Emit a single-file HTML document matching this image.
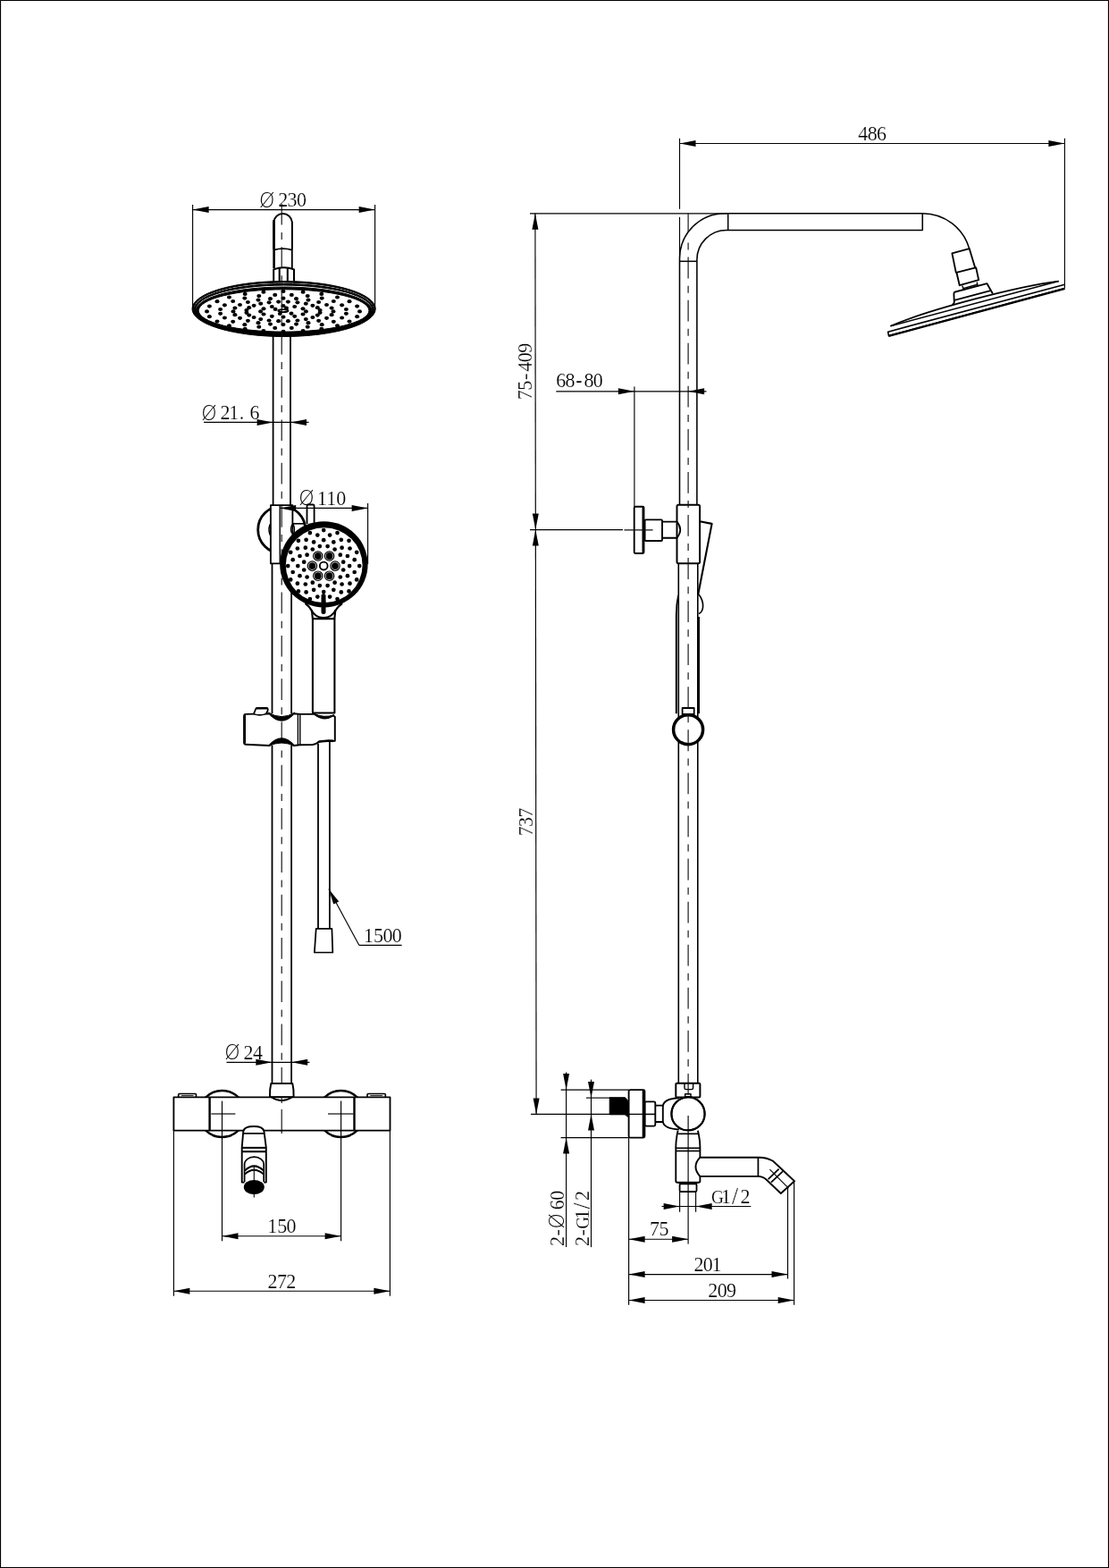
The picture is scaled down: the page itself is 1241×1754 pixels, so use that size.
<!DOCTYPE html>
<html><head><meta charset="utf-8"><title>Shower column drawing</title>
<style>
html,body{margin:0;padding:0;background:#fff}
svg{display:block;will-change:transform}
svg{stroke:#000;stroke-linecap:butt;stroke-linejoin:round;fill:none}
text,tspan{font-family:"Liberation Serif","DejaVu Serif",serif;fill:#000;stroke:#fff;stroke-width:0.2px;stroke-linejoin:miter}
.dia{font-family:"DejaVu Sans","Liberation Sans",sans-serif;font-weight:200;font-size:23.5px;letter-spacing:0;stroke:none}
.cl{stroke:#111}
</style></head><body>
<svg width="1241" height="1754" viewBox="0 0 1241 1754">
<rect x="0" y="0" width="1241" height="1754" fill="#fff" stroke="none"/>
<rect x="0.55" y="0.55" width="1239.9" height="1752.9" fill="none" stroke-width="1.1"/>
<circle cx="315.2" cy="592.6" r="26.50" stroke-width="2.8" fill="none" />
<circle cx="315.2" cy="592.6" r="14.20" stroke-width="1.51" fill="none" />
<path d="M306.2,279 L306.2,248.5 A10.4,10.5 0 0 1 326.9,248.5 L326.9,279" stroke-width="1.94" fill="none" />
<line x1="306.6" y1="246.0" x2="306.6" y2="300.0" stroke-width="2.6" />
<path d="M306.5,279.6 Q316.5,276.6 326.9,279.6" stroke-width="1.62" fill="none" />
<line x1="326.8" y1="279.0" x2="326.8" y2="300.0" stroke-width="1.84" />
<path d="M306.2,314.5 L306.2,301.4 Q317.6,297.2 329,301.4 L329,314.5" stroke-width="2.05" fill="none" />
<line x1="312.7" y1="300.0" x2="312.7" y2="314.5" stroke-width="2.05" />
<line x1="321.8" y1="299.6" x2="321.8" y2="314.5" stroke-width="2.05" />
<line x1="305.6" y1="370.0" x2="305.6" y2="565.0" stroke-width="1.8" />
<line x1="325.0" y1="370.0" x2="325.0" y2="565.0" stroke-width="1.8" />
<line x1="304.5" y1="630.0" x2="304.5" y2="798.0" stroke-width="1.8" />
<line x1="326.1" y1="630.0" x2="326.1" y2="798.0" stroke-width="1.8" />
<line x1="304.5" y1="834.0" x2="304.5" y2="1212.0" stroke-width="1.8" />
<line x1="326.1" y1="834.0" x2="326.1" y2="1212.0" stroke-width="1.8" />
<ellipse cx="317.6" cy="345.50" rx="102.60" ry="31.00" fill="#000" stroke="#000" stroke-width="1"/>
<ellipse cx="317.6" cy="345.40" rx="100.90" ry="29.35" fill="#fff" stroke="#000" stroke-width="1"/>
<ellipse cx="317.6" cy="346.25" rx="100.40" ry="28.75" fill="#000" stroke="#000" stroke-width="1"/>
<ellipse cx="317.6" cy="346.30" rx="98.70" ry="27.20" fill="#fff" stroke="#000" stroke-width="1"/>
<ellipse cx="317.6" cy="347.40" rx="98.20" ry="26.40" fill="#000" stroke="#000" stroke-width="1"/>
<ellipse cx="317.6" cy="347.45" rx="95.30" ry="23.65" fill="#fff" stroke="#000" stroke-width="1"/>
<ellipse cx="402.5" cy="348.4" rx="2.5" ry="2.1" fill="#000" stroke="none"/>
<ellipse cx="399.6" cy="354.2" rx="2.5" ry="2.1" fill="#000" stroke="none"/>
<ellipse cx="391.0" cy="359.6" rx="2.5" ry="2.1" fill="#000" stroke="none"/>
<ellipse cx="377.5" cy="364.3" rx="2.5" ry="2.1" fill="#000" stroke="none"/>
<ellipse cx="359.8" cy="367.9" rx="2.5" ry="2.1" fill="#000" stroke="none"/>
<ellipse cx="339.1" cy="370.1" rx="2.5" ry="2.1" fill="#000" stroke="none"/>
<ellipse cx="317.0" cy="370.9" rx="2.5" ry="2.1" fill="#000" stroke="none"/>
<ellipse cx="294.9" cy="370.1" rx="2.5" ry="2.1" fill="#000" stroke="none"/>
<ellipse cx="274.2" cy="367.9" rx="2.5" ry="2.1" fill="#000" stroke="none"/>
<ellipse cx="256.5" cy="364.3" rx="2.5" ry="2.1" fill="#000" stroke="none"/>
<ellipse cx="243.0" cy="359.6" rx="2.5" ry="2.1" fill="#000" stroke="none"/>
<ellipse cx="234.4" cy="354.2" rx="2.5" ry="2.1" fill="#000" stroke="none"/>
<ellipse cx="231.5" cy="348.4" rx="2.5" ry="2.1" fill="#000" stroke="none"/>
<ellipse cx="234.4" cy="342.6" rx="2.5" ry="2.1" fill="#000" stroke="none"/>
<ellipse cx="243.0" cy="337.2" rx="2.5" ry="2.1" fill="#000" stroke="none"/>
<ellipse cx="256.5" cy="332.5" rx="2.5" ry="2.1" fill="#000" stroke="none"/>
<ellipse cx="274.2" cy="328.9" rx="2.5" ry="2.1" fill="#000" stroke="none"/>
<ellipse cx="294.9" cy="326.7" rx="2.5" ry="2.1" fill="#000" stroke="none"/>
<ellipse cx="317.0" cy="325.9" rx="2.5" ry="2.1" fill="#000" stroke="none"/>
<ellipse cx="339.1" cy="326.7" rx="2.5" ry="2.1" fill="#000" stroke="none"/>
<ellipse cx="359.8" cy="328.9" rx="2.5" ry="2.1" fill="#000" stroke="none"/>
<ellipse cx="377.5" cy="332.5" rx="2.5" ry="2.1" fill="#000" stroke="none"/>
<ellipse cx="391.0" cy="337.2" rx="2.5" ry="2.1" fill="#000" stroke="none"/>
<ellipse cx="399.6" cy="342.6" rx="2.5" ry="2.1" fill="#000" stroke="none"/>
<ellipse cx="387.4" cy="350.8" rx="2.5" ry="2.1" fill="#000" stroke="none"/>
<ellipse cx="382.6" cy="355.5" rx="2.5" ry="2.1" fill="#000" stroke="none"/>
<ellipse cx="373.3" cy="359.8" rx="2.5" ry="2.1" fill="#000" stroke="none"/>
<ellipse cx="360.2" cy="363.2" rx="2.5" ry="2.1" fill="#000" stroke="none"/>
<ellipse cx="344.2" cy="365.7" rx="2.5" ry="2.1" fill="#000" stroke="none"/>
<ellipse cx="326.3" cy="366.9" rx="2.5" ry="2.1" fill="#000" stroke="none"/>
<ellipse cx="307.7" cy="366.9" rx="2.5" ry="2.1" fill="#000" stroke="none"/>
<ellipse cx="289.8" cy="365.7" rx="2.5" ry="2.1" fill="#000" stroke="none"/>
<ellipse cx="273.8" cy="363.2" rx="2.5" ry="2.1" fill="#000" stroke="none"/>
<ellipse cx="260.7" cy="359.8" rx="2.5" ry="2.1" fill="#000" stroke="none"/>
<ellipse cx="251.4" cy="355.5" rx="2.5" ry="2.1" fill="#000" stroke="none"/>
<ellipse cx="246.6" cy="350.8" rx="2.5" ry="2.1" fill="#000" stroke="none"/>
<ellipse cx="246.6" cy="346.0" rx="2.5" ry="2.1" fill="#000" stroke="none"/>
<ellipse cx="251.4" cy="341.3" rx="2.5" ry="2.1" fill="#000" stroke="none"/>
<ellipse cx="260.7" cy="337.0" rx="2.5" ry="2.1" fill="#000" stroke="none"/>
<ellipse cx="273.8" cy="333.6" rx="2.5" ry="2.1" fill="#000" stroke="none"/>
<ellipse cx="289.8" cy="331.1" rx="2.5" ry="2.1" fill="#000" stroke="none"/>
<ellipse cx="307.7" cy="329.9" rx="2.5" ry="2.1" fill="#000" stroke="none"/>
<ellipse cx="326.3" cy="329.9" rx="2.5" ry="2.1" fill="#000" stroke="none"/>
<ellipse cx="344.2" cy="331.1" rx="2.5" ry="2.1" fill="#000" stroke="none"/>
<ellipse cx="360.2" cy="333.6" rx="2.5" ry="2.1" fill="#000" stroke="none"/>
<ellipse cx="373.3" cy="337.0" rx="2.5" ry="2.1" fill="#000" stroke="none"/>
<ellipse cx="382.6" cy="341.3" rx="2.5" ry="2.1" fill="#000" stroke="none"/>
<ellipse cx="387.4" cy="346.0" rx="2.5" ry="2.1" fill="#000" stroke="none"/>
<ellipse cx="373.0" cy="348.4" rx="2.5" ry="2.1" fill="#000" stroke="none"/>
<ellipse cx="371.1" cy="352.2" rx="2.5" ry="2.1" fill="#000" stroke="none"/>
<ellipse cx="365.5" cy="355.8" rx="2.5" ry="2.1" fill="#000" stroke="none"/>
<ellipse cx="356.6" cy="358.8" rx="2.5" ry="2.1" fill="#000" stroke="none"/>
<ellipse cx="345.0" cy="361.2" rx="2.5" ry="2.1" fill="#000" stroke="none"/>
<ellipse cx="331.5" cy="362.6" rx="2.5" ry="2.1" fill="#000" stroke="none"/>
<ellipse cx="317.0" cy="363.1" rx="2.5" ry="2.1" fill="#000" stroke="none"/>
<ellipse cx="302.5" cy="362.6" rx="2.5" ry="2.1" fill="#000" stroke="none"/>
<ellipse cx="289.0" cy="361.2" rx="2.5" ry="2.1" fill="#000" stroke="none"/>
<ellipse cx="277.4" cy="358.8" rx="2.5" ry="2.1" fill="#000" stroke="none"/>
<ellipse cx="268.5" cy="355.8" rx="2.5" ry="2.1" fill="#000" stroke="none"/>
<ellipse cx="262.9" cy="352.2" rx="2.5" ry="2.1" fill="#000" stroke="none"/>
<ellipse cx="261.0" cy="348.4" rx="2.5" ry="2.1" fill="#000" stroke="none"/>
<ellipse cx="262.9" cy="344.6" rx="2.5" ry="2.1" fill="#000" stroke="none"/>
<ellipse cx="268.5" cy="341.0" rx="2.5" ry="2.1" fill="#000" stroke="none"/>
<ellipse cx="277.4" cy="338.0" rx="2.5" ry="2.1" fill="#000" stroke="none"/>
<ellipse cx="289.0" cy="335.6" rx="2.5" ry="2.1" fill="#000" stroke="none"/>
<ellipse cx="302.5" cy="334.2" rx="2.5" ry="2.1" fill="#000" stroke="none"/>
<ellipse cx="317.0" cy="333.7" rx="2.5" ry="2.1" fill="#000" stroke="none"/>
<ellipse cx="331.5" cy="334.2" rx="2.5" ry="2.1" fill="#000" stroke="none"/>
<ellipse cx="345.0" cy="335.6" rx="2.5" ry="2.1" fill="#000" stroke="none"/>
<ellipse cx="356.6" cy="338.0" rx="2.5" ry="2.1" fill="#000" stroke="none"/>
<ellipse cx="365.5" cy="341.0" rx="2.5" ry="2.1" fill="#000" stroke="none"/>
<ellipse cx="371.1" cy="344.6" rx="2.5" ry="2.1" fill="#000" stroke="none"/>
<ellipse cx="358.1" cy="349.8" rx="2.5" ry="2.1" fill="#000" stroke="none"/>
<ellipse cx="355.3" cy="352.6" rx="2.5" ry="2.1" fill="#000" stroke="none"/>
<ellipse cx="349.9" cy="355.0" rx="2.5" ry="2.1" fill="#000" stroke="none"/>
<ellipse cx="342.3" cy="357.1" rx="2.5" ry="2.1" fill="#000" stroke="none"/>
<ellipse cx="332.9" cy="358.5" rx="2.5" ry="2.1" fill="#000" stroke="none"/>
<ellipse cx="322.4" cy="359.2" rx="2.5" ry="2.1" fill="#000" stroke="none"/>
<ellipse cx="311.6" cy="359.2" rx="2.5" ry="2.1" fill="#000" stroke="none"/>
<ellipse cx="301.1" cy="358.5" rx="2.5" ry="2.1" fill="#000" stroke="none"/>
<ellipse cx="291.7" cy="357.1" rx="2.5" ry="2.1" fill="#000" stroke="none"/>
<ellipse cx="284.1" cy="355.0" rx="2.5" ry="2.1" fill="#000" stroke="none"/>
<ellipse cx="278.7" cy="352.6" rx="2.5" ry="2.1" fill="#000" stroke="none"/>
<ellipse cx="275.9" cy="349.8" rx="2.5" ry="2.1" fill="#000" stroke="none"/>
<ellipse cx="275.9" cy="347.0" rx="2.5" ry="2.1" fill="#000" stroke="none"/>
<ellipse cx="278.7" cy="344.2" rx="2.5" ry="2.1" fill="#000" stroke="none"/>
<ellipse cx="284.1" cy="341.8" rx="2.5" ry="2.1" fill="#000" stroke="none"/>
<ellipse cx="291.7" cy="339.7" rx="2.5" ry="2.1" fill="#000" stroke="none"/>
<ellipse cx="301.1" cy="338.3" rx="2.5" ry="2.1" fill="#000" stroke="none"/>
<ellipse cx="311.6" cy="337.6" rx="2.5" ry="2.1" fill="#000" stroke="none"/>
<ellipse cx="322.4" cy="337.6" rx="2.5" ry="2.1" fill="#000" stroke="none"/>
<ellipse cx="332.9" cy="338.3" rx="2.5" ry="2.1" fill="#000" stroke="none"/>
<ellipse cx="342.3" cy="339.7" rx="2.5" ry="2.1" fill="#000" stroke="none"/>
<ellipse cx="349.9" cy="341.8" rx="2.5" ry="2.1" fill="#000" stroke="none"/>
<ellipse cx="355.3" cy="344.2" rx="2.5" ry="2.1" fill="#000" stroke="none"/>
<ellipse cx="358.1" cy="347.0" rx="2.5" ry="2.1" fill="#000" stroke="none"/>
<ellipse cx="342.4" cy="348.4" rx="2.5" ry="2.1" fill="#000" stroke="none"/>
<ellipse cx="339.0" cy="351.5" rx="2.5" ry="2.1" fill="#000" stroke="none"/>
<ellipse cx="329.7" cy="353.8" rx="2.5" ry="2.1" fill="#000" stroke="none"/>
<ellipse cx="317.0" cy="354.6" rx="2.5" ry="2.1" fill="#000" stroke="none"/>
<ellipse cx="304.3" cy="353.8" rx="2.5" ry="2.1" fill="#000" stroke="none"/>
<ellipse cx="295.0" cy="351.5" rx="2.5" ry="2.1" fill="#000" stroke="none"/>
<ellipse cx="291.6" cy="348.4" rx="2.5" ry="2.1" fill="#000" stroke="none"/>
<ellipse cx="295.0" cy="345.3" rx="2.5" ry="2.1" fill="#000" stroke="none"/>
<ellipse cx="304.3" cy="343.0" rx="2.5" ry="2.1" fill="#000" stroke="none"/>
<ellipse cx="317.0" cy="342.2" rx="2.5" ry="2.1" fill="#000" stroke="none"/>
<ellipse cx="329.7" cy="343.0" rx="2.5" ry="2.1" fill="#000" stroke="none"/>
<ellipse cx="339.0" cy="345.3" rx="2.5" ry="2.1" fill="#000" stroke="none"/>
<ellipse cx="308.1" cy="345.9" rx="2.5" ry="2.1" fill="#000" stroke="none"/>
<ellipse cx="313.3" cy="351.0" rx="2.5" ry="2.1" fill="#000" stroke="none"/>
<ellipse cx="320.5" cy="344.7" rx="2.5" ry="2.1" fill="#000" stroke="none"/>
<ellipse cx="326.0" cy="350.7" rx="2.5" ry="2.1" fill="#000" stroke="none"/>
<ellipse cx="316.9" cy="347.7" rx="5.60" ry="1.50" stroke-width="1.84" fill="none" />
<line x1="315.2" y1="227.9" x2="315.2" y2="1268.0" stroke-width="1.15" class="cl" stroke-dasharray="23.7 8.4 8 8.2"/>
<rect x="302.9" y="565.2" width="24.5" height="65.1" rx="0" stroke-width="1.84" fill="#fff" />
<line x1="313.2" y1="565.2" x2="313.2" y2="630.3" stroke-width="1.4" />
<line x1="315.2" y1="565.0" x2="315.2" y2="630.0" stroke-width="1.15" class="cl" stroke-dasharray="23.7 8.4 8 8.2" stroke-dashoffset="47.3"/>
<line x1="327.4" y1="585.8" x2="341.0" y2="585.8" stroke-width="1.62" />
<path d="M327,586.5 Q324.5,591.5 326.5,596.5" stroke-width="1.51" fill="none" />
<path d="M343.5,586 L343.5,566 Q343.5,564.5 345,564.5 L350.1,564.5 Q351.6,564.5 351.6,566 L351.6,586" stroke-width="1.84" fill="none" />
<path d="M344,672 L342.2,675.6 Q347.7,679.5 349.1,684.5 L349.9,692 L374.3,692 L375.1,684.5 Q376.5,679.5 382.4,675.6 L380.5,672 Z" stroke-width="2.16" fill="#fff" />
<ellipse cx="362.4" cy="631.3" rx="49.20" ry="48.10" stroke-width="0" fill="#000" stroke="none"/>
<ellipse cx="362.7" cy="632.2" rx="42.90" ry="42.00" stroke-width="0" fill="#fff" stroke="none"/>
<path d="M348.4,682.2 C351.5,689 356,691 362,691 C368,691 372.5,689 375.6,682.2" stroke-width="1.94" fill="none" />
<circle cx="402.2" cy="633.1" r="2.35" fill="#000" stroke="none"/>
<circle cx="399.2" cy="648.4" r="2.35" fill="#000" stroke="none"/>
<circle cx="390.5" cy="661.4" r="2.35" fill="#000" stroke="none"/>
<circle cx="377.5" cy="670.1" r="2.35" fill="#000" stroke="none"/>
<circle cx="362.2" cy="673.1" r="2.35" fill="#000" stroke="none"/>
<circle cx="346.9" cy="670.1" r="2.35" fill="#000" stroke="none"/>
<circle cx="333.9" cy="661.4" r="2.35" fill="#000" stroke="none"/>
<circle cx="325.2" cy="648.4" r="2.35" fill="#000" stroke="none"/>
<circle cx="322.2" cy="633.1" r="2.35" fill="#000" stroke="none"/>
<circle cx="325.2" cy="617.8" r="2.35" fill="#000" stroke="none"/>
<circle cx="333.9" cy="604.8" r="2.35" fill="#000" stroke="none"/>
<circle cx="346.9" cy="596.1" r="2.35" fill="#000" stroke="none"/>
<circle cx="362.2" cy="593.1" r="2.35" fill="#000" stroke="none"/>
<circle cx="377.5" cy="596.1" r="2.35" fill="#000" stroke="none"/>
<circle cx="390.5" cy="604.8" r="2.35" fill="#000" stroke="none"/>
<circle cx="399.2" cy="617.8" r="2.35" fill="#000" stroke="none"/>
<circle cx="396.7" cy="640.0" r="2.35" fill="#000" stroke="none"/>
<circle cx="391.5" cy="652.7" r="2.35" fill="#000" stroke="none"/>
<circle cx="381.8" cy="662.4" r="2.35" fill="#000" stroke="none"/>
<circle cx="369.1" cy="667.6" r="2.35" fill="#000" stroke="none"/>
<circle cx="355.3" cy="667.6" r="2.35" fill="#000" stroke="none"/>
<circle cx="342.6" cy="662.4" r="2.35" fill="#000" stroke="none"/>
<circle cx="332.9" cy="652.7" r="2.35" fill="#000" stroke="none"/>
<circle cx="327.7" cy="640.0" r="2.35" fill="#000" stroke="none"/>
<circle cx="327.7" cy="626.2" r="2.35" fill="#000" stroke="none"/>
<circle cx="332.9" cy="613.5" r="2.35" fill="#000" stroke="none"/>
<circle cx="342.6" cy="603.8" r="2.35" fill="#000" stroke="none"/>
<circle cx="355.3" cy="598.6" r="2.35" fill="#000" stroke="none"/>
<circle cx="369.1" cy="598.6" r="2.35" fill="#000" stroke="none"/>
<circle cx="381.8" cy="603.8" r="2.35" fill="#000" stroke="none"/>
<circle cx="391.5" cy="613.5" r="2.35" fill="#000" stroke="none"/>
<circle cx="396.7" cy="626.2" r="2.35" fill="#000" stroke="none"/>
<circle cx="391.1" cy="633.1" r="2.35" fill="#000" stroke="none"/>
<circle cx="388.9" cy="644.2" r="2.35" fill="#000" stroke="none"/>
<circle cx="382.6" cy="653.5" r="2.35" fill="#000" stroke="none"/>
<circle cx="373.3" cy="659.8" r="2.35" fill="#000" stroke="none"/>
<circle cx="362.2" cy="662.0" r="2.35" fill="#000" stroke="none"/>
<circle cx="351.1" cy="659.8" r="2.35" fill="#000" stroke="none"/>
<circle cx="341.8" cy="653.5" r="2.35" fill="#000" stroke="none"/>
<circle cx="335.5" cy="644.2" r="2.35" fill="#000" stroke="none"/>
<circle cx="333.3" cy="633.1" r="2.35" fill="#000" stroke="none"/>
<circle cx="335.5" cy="622.0" r="2.35" fill="#000" stroke="none"/>
<circle cx="341.8" cy="612.7" r="2.35" fill="#000" stroke="none"/>
<circle cx="351.1" cy="606.4" r="2.35" fill="#000" stroke="none"/>
<circle cx="362.2" cy="604.2" r="2.35" fill="#000" stroke="none"/>
<circle cx="373.3" cy="606.4" r="2.35" fill="#000" stroke="none"/>
<circle cx="382.6" cy="612.7" r="2.35" fill="#000" stroke="none"/>
<circle cx="388.9" cy="622.0" r="2.35" fill="#000" stroke="none"/>
<circle cx="384.2" cy="637.5" r="2.35" fill="#000" stroke="none"/>
<circle cx="380.8" cy="645.5" r="2.35" fill="#000" stroke="none"/>
<circle cx="374.6" cy="651.7" r="2.35" fill="#000" stroke="none"/>
<circle cx="366.6" cy="655.1" r="2.35" fill="#000" stroke="none"/>
<circle cx="357.8" cy="655.1" r="2.35" fill="#000" stroke="none"/>
<circle cx="349.8" cy="651.7" r="2.35" fill="#000" stroke="none"/>
<circle cx="343.6" cy="645.5" r="2.35" fill="#000" stroke="none"/>
<circle cx="340.2" cy="637.5" r="2.35" fill="#000" stroke="none"/>
<circle cx="340.2" cy="628.7" r="2.35" fill="#000" stroke="none"/>
<circle cx="343.6" cy="620.7" r="2.35" fill="#000" stroke="none"/>
<circle cx="349.8" cy="614.5" r="2.35" fill="#000" stroke="none"/>
<circle cx="357.8" cy="611.1" r="2.35" fill="#000" stroke="none"/>
<circle cx="366.6" cy="611.1" r="2.35" fill="#000" stroke="none"/>
<circle cx="374.6" cy="614.5" r="2.35" fill="#000" stroke="none"/>
<circle cx="380.8" cy="620.7" r="2.35" fill="#000" stroke="none"/>
<circle cx="384.2" cy="628.7" r="2.35" fill="#000" stroke="none"/>
<circle cx="375.0" cy="633.1" r="5.20" stroke-width="1.2" fill="#fff" />
<circle cx="375.0" cy="633.1" r="3.90" stroke-width="0" fill="#000" stroke="none"/>
<circle cx="368.6" cy="644.2" r="5.20" stroke-width="1.2" fill="#fff" />
<circle cx="368.6" cy="644.2" r="3.90" stroke-width="0" fill="#000" stroke="none"/>
<circle cx="355.8" cy="644.2" r="5.20" stroke-width="1.2" fill="#fff" />
<circle cx="355.8" cy="644.2" r="3.90" stroke-width="0" fill="#000" stroke="none"/>
<circle cx="349.4" cy="633.1" r="5.20" stroke-width="1.2" fill="#fff" />
<circle cx="349.4" cy="633.1" r="3.90" stroke-width="0" fill="#000" stroke="none"/>
<circle cx="355.8" cy="622.0" r="5.20" stroke-width="1.2" fill="#fff" />
<circle cx="355.8" cy="622.0" r="3.90" stroke-width="0" fill="#000" stroke="none"/>
<circle cx="368.6" cy="622.0" r="5.20" stroke-width="1.2" fill="#fff" />
<circle cx="368.6" cy="622.0" r="3.90" stroke-width="0" fill="#000" stroke="none"/>
<circle cx="362.2" cy="633.1" r="4.40" stroke-width="1.84" fill="#fff" />
<line x1="362.0" y1="666.4" x2="362.0" y2="684.4" stroke-width="5" style="stroke-linecap:round"/>
<rect x="349.9" y="692.1" width="24.5" height="105.4" rx="0" stroke-width="2.05" fill="#fff" />
<path d="M274.7,798.9 L301.3,798.2 Q315.2,813.6 328.8,798.2 L336,798.9 L352,798.9 Q362.5,807 373,800.5 L374.8,801.8 L374.8,828.8 L357,829.3 Q354,832.5 350,833 L336,833.2 L328.8,834 Q315.2,818.4 301.3,834 L274.7,832.7 Q273.2,832.7 273.2,831.2 L273.2,800.4 Q273.2,798.9 274.7,798.9 Z" stroke-width="1.94" fill="none" />
<path d="M300.3,797.0 Q315.2,814.2 329.8,797.0 Q315.2,806.2 300.3,797.0 Z" fill="#000" stroke="#000" stroke-width="1"/>
<path d="M300.3,834.8 Q315.2,817.8 329.8,834.8 Q315.2,827.2 300.3,834.8 Z" fill="#000" stroke="#000" stroke-width="1"/>
<path d="M350.5,798.0 Q362.5,808 373.8,799.8 Q362.5,803.6 350.5,798.0 Z" fill="#000" stroke="#000" stroke-width="1"/>
<path d="M354.5,831 Q360,827.2 373,828 L373,829.6 Q361,829.2 354.5,831 Z" fill="#000" stroke="#000" stroke-width="1"/>
<line x1="273.7" y1="800.0" x2="273.7" y2="831.6" stroke-width="2.6" />
<line x1="333.4" y1="798.8" x2="333.4" y2="833.2" stroke-width="1.4" />
<line x1="335.8" y1="798.8" x2="335.8" y2="833.2" stroke-width="1.4" />
<path d="M283.9,798.9 L286.3,792.8 Q286.6,792.1 287.6,792.1 L298.4,791.9 Q299.6,791.9 299.8,793.4 L299.6,795 L297.4,798.9" stroke-width="1.73" fill="#fff" />
<path d="M286.4,792.4 L299.2,792.2" stroke-width="2.4" fill="none" />
<path d="M284.4,798.9 Q291,801 297.2,798.6" stroke-width="1.51" fill="none" />
<line x1="356.0" y1="831.5" x2="356.0" y2="1038.6" stroke-width="1.8" />
<line x1="368.9" y1="829.0" x2="368.9" y2="1038.6" stroke-width="1.8" />
<path d="M353.7,1038.9 L371.4,1038.9 L372.3,1065.5 L351.9,1065.5 Z" stroke-width="1.73" fill="#fff" />
<circle cx="248.5" cy="1246.0" r="26.00" stroke-width="2.6" fill="none" />
<circle cx="381.5" cy="1246.0" r="26.00" stroke-width="2.6" fill="none" />
<rect x="199.7" y="1223.5" width="19.8" height="6.5" rx="1" stroke-width="1.62" fill="#fff" />
<rect x="411.0" y="1223.5" width="20.3" height="6.5" rx="1" stroke-width="1.62" fill="#fff" />
<line x1="203.0" y1="1225.6" x2="216.5" y2="1225.6" stroke-width="0.9" />
<line x1="414.3" y1="1225.6" x2="428.0" y2="1225.6" stroke-width="0.9" />
<path d="M303.3,1212 L327.3,1212 Q329,1219 328.6,1227.3 L302,1227.3 Q301.6,1219 303.3,1212 Z" stroke-width="1.94" fill="#fff" />
<rect x="194.4" y="1227.3" width="242.1" height="37.3" rx="0" stroke-width="1.84" fill="#fff" />
<path d="M303.5,1227.3 Q315.2,1235 327,1227.3" stroke-width="1.62" fill="none" />
<line x1="234.6" y1="1227.3" x2="234.6" y2="1264.6" stroke-width="2.4" />
<line x1="396.5" y1="1227.3" x2="396.5" y2="1264.6" stroke-width="2.4" />
<line x1="236.3" y1="1246.0" x2="263.4" y2="1246.0" stroke-width="1.15" />
<line x1="367.0" y1="1246.0" x2="395.4" y2="1246.0" stroke-width="1.15" />
<line x1="248.5" y1="1231.6" x2="248.5" y2="1388.3" stroke-width="1.15" />
<line x1="381.6" y1="1231.6" x2="381.6" y2="1388.3" stroke-width="1.15" />
<line x1="315.2" y1="1227.0" x2="315.2" y2="1234.0" stroke-width="1.15" class="cl"/>
<line x1="315.2" y1="1241.0" x2="315.2" y2="1268.0" stroke-width="1.15" class="cl"/>
<line x1="194.4" y1="1264.6" x2="194.4" y2="1449.7" stroke-width="1.15" />
<line x1="436.4" y1="1264.6" x2="436.4" y2="1449.7" stroke-width="1.15" />
<rect x="273.2" y="1262.8" width="21.4" height="3.6" fill="#fff" stroke="none"/>
<path d="M272.3,1265.2 C273.3,1261.4 277,1260 284,1260 C291,1260 294.4,1261.4 295.4,1265.2" stroke-width="2.05" fill="none" />
<line x1="272.6" y1="1267.9" x2="295.1" y2="1267.9" stroke-width="1.73" />
<path d="M272.3,1265 L270.7,1283.6 L270.7,1322.6 L273.6,1322.6 M295.4,1265 L297.8,1283.6 L297.8,1322.6 L295.2,1322.6" stroke-width="1.89" fill="none" />
<line x1="270.7" y1="1283.9" x2="297.8" y2="1283.9" stroke-width="2.05" />
<line x1="270.7" y1="1288.2" x2="297.8" y2="1288.2" stroke-width="2.05" />
<path d="M273.6,1322 L273.6,1302.5 A10.8,8.3 0 0 1 295.2,1302.5 L295.2,1322" stroke-width="1.73" fill="none" />
<path d="M273.9,1309.6 Q284.3,1299.2 295,1309.6" stroke-width="1.94" fill="none" />
<path d="M273.9,1313.6 Q284.3,1304 295,1313.6" stroke-width="1.94" fill="none" />
<line x1="284.3" y1="1304.7" x2="284.3" y2="1321.0" stroke-width="1.15" class="cl"/>
<ellipse cx="284.3" cy="1328.0" rx="11.50" ry="8.10" stroke-width="0" fill="#000" stroke="none"/>
<line x1="284.3" y1="1335.0" x2="284.3" y2="1339.6" stroke-width="1.15" class="cl"/>
<line x1="215.6" y1="229.0" x2="215.6" y2="346.0" stroke-width="1.15" />
<line x1="419.6" y1="229.0" x2="419.6" y2="346.0" stroke-width="1.15" />
<line x1="215.6" y1="234.6" x2="419.6" y2="234.6" stroke-width="1.15" />
<polygon points="215.6,234.6 233.6,231.1 233.6,238.1" fill="#000" stroke="none"/>
<polygon points="419.6,234.6 401.6,238.1 401.6,231.1" fill="#000" stroke="none"/>
<text transform="translate(291.2,231.0) scale(0.94,1)" font-size="23.4"><tspan class="dia" x="-1.28" y="0.5">Ø</tspan><tspan x="21.28" y="0">2</tspan><tspan x="32.34" y="0">3</tspan><tspan x="43.40" y="0">0</tspan></text>
<line x1="228.0" y1="472.4" x2="345.5" y2="472.4" stroke-width="1.15" />
<polygon points="305.6,472.4 287.6,475.9 287.6,468.9" fill="#000" stroke="none"/>
<polygon points="325.0,472.4 343.0,468.9 343.0,475.9" fill="#000" stroke="none"/>
<text transform="translate(226.5,469.0) scale(0.94,1)" font-size="23.4"><tspan class="dia" x="-1.28" y="0.5">Ø</tspan><tspan x="21.28" y="0">2</tspan><tspan x="31.70" y="0">1</tspan><tspan x="43.94" y="0">.</tspan><tspan x="56.28" y="0">6</tspan></text>
<line x1="313.2" y1="568.4" x2="411.6" y2="568.4" stroke-width="1.15" />
<polygon points="313.2,568.4 331.2,564.9 331.2,571.9" fill="#000" stroke="none"/>
<polygon points="411.6,568.4 393.6,571.9 393.6,564.9" fill="#000" stroke="none"/>
<line x1="411.6" y1="563.0" x2="411.6" y2="631.0" stroke-width="1.15" />
<text transform="translate(335.5,564.5) scale(0.94,1)" font-size="23.4"><tspan class="dia" x="-1.28" y="0.5">Ø</tspan><tspan x="20.64" y="0">1</tspan><tspan x="31.70" y="0">1</tspan><tspan x="43.40" y="0">0</tspan></text>
<line x1="367.9" y1="994.6" x2="401.8" y2="1057.3" stroke-width="1.15" />
<line x1="401.8" y1="1057.3" x2="449.6" y2="1057.3" stroke-width="1.15" />
<polygon points="367.9,994.6 379.2,1008.4 373.2,1011.6" fill="#000" stroke="none"/>
<text transform="translate(407.6,1054.0) scale(0.94,1)" font-size="23.4"><tspan x="-0.64" y="0">1</tspan><tspan x="11.06" y="0">5</tspan><tspan x="22.13" y="0">0</tspan><tspan x="33.19" y="0">0</tspan></text>
<line x1="253.5" y1="1188.3" x2="346.4" y2="1188.3" stroke-width="1.15" />
<polygon points="304.4,1188.3 286.4,1191.8 286.4,1184.8" fill="#000" stroke="none"/>
<polygon points="326.2,1188.3 344.2,1184.8 344.2,1191.8" fill="#000" stroke="none"/>
<text transform="translate(252.5,1184.8) scale(0.94,1)" font-size="23.4"><tspan class="dia" x="-1.28" y="0.5">Ø</tspan><tspan x="21.28" y="0">2</tspan><tspan x="32.34" y="0">4</tspan></text>
<line x1="248.5" y1="1382.7" x2="381.6" y2="1382.7" stroke-width="1.15" />
<polygon points="248.5,1382.7 266.5,1379.2 266.5,1386.2" fill="#000" stroke="none"/>
<polygon points="381.6,1382.7 363.6,1386.2 363.6,1379.2" fill="#000" stroke="none"/>
<text transform="translate(299.8,1379.0) scale(0.94,1)" font-size="23.4"><tspan x="-0.64" y="0">1</tspan><tspan x="11.06" y="0">5</tspan><tspan x="22.13" y="0">0</tspan></text>
<line x1="194.4" y1="1444.2" x2="436.4" y2="1444.2" stroke-width="1.15" />
<polygon points="194.4,1444.2 212.4,1440.7 212.4,1447.7" fill="#000" stroke="none"/>
<polygon points="436.4,1444.2 418.4,1447.7 418.4,1440.7" fill="#000" stroke="none"/>
<text transform="translate(299.5,1440.5) scale(0.94,1)" font-size="23.4"><tspan x="0.00" y="0">2</tspan><tspan x="11.06" y="0">7</tspan><tspan x="22.13" y="0">2</tspan></text>
<path d="M760.5,564.7 L760.5,289.3 A50.6,50.6 0 0 1 811.1,238.7 L1032.3,238.7 A54.6,54.6 0 0 1 1084.7,278.1" stroke-width="1.55" fill="none" />
<path d="M779.9,564.7 L779.9,290.5 A33,33 0 0 1 812.9,257.5 L1032.3,257.5 L1032.3,238.7" stroke-width="1.55" fill="none" />
<line x1="814.7" y1="238.8" x2="814.7" y2="257.5" stroke-width="1.5" />
<line x1="760.5" y1="292.3" x2="779.9" y2="292.3" stroke-width="1.5" />
<path d="M1065.4,283.4 L1084.7,278.1 L1091.2,299.6 L1092.2,299.4 L1095.2,313.2 L1073.8,319.2 L1070.4,304.8 L1069.8,304.9 Z" stroke-width="1.87" fill="#fff" />
<line x1="1070.2" y1="304.8" x2="1091.8" y2="299.4" stroke-width="1.87" />
<path d="M1076.7,319.6 L1077.9,322.6 L1078.6,325 M1093.2,315.6 L1093.8,318.3 L1094.2,320.4 M1077.9,322.6 L1093.8,318.3" stroke-width="1.43" fill="none" />
<path d="M996.5,364.7 C1040,346 1140,320 1184.6,314.6" stroke-width="1.76" fill="none" />
<line x1="996.5" y1="364.7" x2="1184.6" y2="314.6" stroke-width="1.54" />
<path d="M1191.5,318.2 L993.7,371.2 L994.5,375.6 L1191.5,322.6" stroke-width="1.65" fill="none" />
<line x1="994.5" y1="375.9" x2="1191.5" y2="322.9" stroke-width="2.2" />
<path d="M1065.8,341 Q1067.6,339.5 1067.8,338.2 L1067.4,328.4 Q1067.4,326.9 1069,326.5 L1104.5,317.2 L1110.9,328.5" stroke-width="1.87" fill="none" />
<line x1="1068.0" y1="335.9" x2="1109.3" y2="324.9" stroke-width="1.65" />
<line x1="759.3" y1="630.0" x2="759.3" y2="1211.8" stroke-width="1.6" />
<line x1="780.8" y1="630.0" x2="780.8" y2="1211.8" stroke-width="1.6" />
<path d="M759.1,666 Q756.8,676 756.8,688 L756.8,798.2" stroke-width="1.87" fill="none" />
<line x1="781.9" y1="690.0" x2="781.9" y2="798.2" stroke-width="2.2" />
<path d="M781.2,664 Q787.2,671 786.6,679 Q786,685 782,686.5" stroke-width="1.65" fill="none" />
<path d="M783.1,583.3 L796.6,585.9 L781.4,664" stroke-width="2.09" fill="none" />
<rect x="709.7" y="566.7" width="10.8" height="52.3" rx="1.2" stroke-width="1.87" fill="none" />
<line x1="719.6" y1="567.0" x2="719.6" y2="618.8" stroke-width="2.2" />
<rect x="721.6" y="581.4" width="19.4" height="23.6" rx="1" stroke-width="1.87" fill="none" />
<path d="M741,583.6 L757.5,583.6 M741,601.7 L757.5,601.7" stroke-width="1.87" fill="none" />
<path d="M757.5,583.6 Q765,592.6 757.5,601.7" stroke-width="1.76" fill="none" />
<rect x="757.5" y="564.7" width="25.6" height="65.6" rx="1.8" stroke-width="1.98" fill="none" />
<rect x="763.6" y="792.0" width="13.1" height="7.0" rx="0" stroke-width="1.76" fill="#fff" />
<circle cx="770.1" cy="816.2" r="16.50" stroke-width="3.5" fill="#fff" />
<rect x="756.3" y="1211.8" width="27.1" height="15.6" rx="1.2" stroke-width="1.98" fill="#fff" />
<path d="M766,1212 L766,1217 Q766,1218.6 767.6,1218.6 L774,1218.6 Q775.6,1218.6 775.6,1217 L775.6,1212" stroke-width="1.43" fill="none" />
<rect x="766.7" y="1223.7" width="6.3" height="3.5" rx="0" stroke-width="1.43" fill="none" />
<path d="M760,1228.3 Q742,1229 741.8,1238 L741.8,1254 Q742,1262.5 760,1263.5" stroke-width="1.87" fill="#fff" />
<circle cx="770.0" cy="1245.9" r="18.60" stroke-width="1.98" fill="#fff" />
<path d="M741.8,1236.6 L733.3,1236.6 M741.8,1255 L733.3,1255" stroke-width="1.76" fill="none" />
<rect x="721.5" y="1232.4" width="11.8" height="27.2" rx="1.5" stroke-width="1.87" fill="none" />
<line x1="721.5" y1="1246.4" x2="733.3" y2="1246.4" stroke-width="1.54" />
<rect x="703.6" y="1219.1" width="17.8" height="53.5" rx="1.5" stroke-width="1.87" fill="none" />
<line x1="719.8" y1="1219.5" x2="719.8" y2="1272.2" stroke-width="2.2" />
<path d="M682.2,1227.7 L699.5,1227.7 L700.9,1229.5 L700.9,1246.8 L682.2,1246.8 Z" fill="#000" stroke="#000" stroke-width="1"/>
<path d="M699,1246.4 L703.6,1250 L703.6,1246.4 Z M700.5,1229 L703.4,1232 L703.4,1246 L700.5,1246Z" fill="#000" stroke="#000" stroke-width="1"/>
<path d="M758.6,1264.7 Q756.3,1275 756.3,1283 L756.3,1321 Q756.3,1322.7 758,1322.7 L781.7,1322.7 Q783.4,1322.7 783.4,1321 L783.4,1283 Q783.4,1275 780.9,1264.7" stroke-width="1.87" fill="#fff" />
<circle cx="770.0" cy="1245.9" r="18.60" stroke-width="1.98" fill="none" />
<line x1="759.0" y1="1268.3" x2="781.0" y2="1268.3" stroke-width="1.65" />
<line x1="756.3" y1="1284.3" x2="783.4" y2="1284.3" stroke-width="1.65" />
<line x1="756.3" y1="1287.5" x2="783.4" y2="1287.5" stroke-width="1.65" />
<path d="M783.4,1294.7 L848.4,1294.7 Q858,1294.5 865,1298.8 L889,1321.3 L873.8,1335 L857.8,1319.8 Q853.5,1316 848.4,1315.9 L783.4,1315.9 Q773.5,1305.3 783.4,1294.7 Z" stroke-width="1.87" fill="#fff" />
<line x1="848.4" y1="1294.7" x2="848.4" y2="1315.9" stroke-width="1.76" />
<line x1="859.6" y1="1319.2" x2="871.6" y2="1307.6" stroke-width="1.76" />
<line x1="862.9" y1="1322.7" x2="875.9" y2="1310.4" stroke-width="1.76" />
<line x1="861.4" y1="1308.2" x2="882.4" y2="1329.2" stroke-width="1.15" />
<rect x="760.6" y="1324.4" width="18.9" height="8.6" rx="1.2" stroke-width="1.76" fill="#fff" />
<line x1="759.5" y1="1323.2" x2="780.5" y2="1323.2" stroke-width="2.2" />
<line x1="770.1" y1="238.7" x2="770.1" y2="259.8" stroke-width="1.15" class="cl"/>
<line x1="770.1" y1="271.6" x2="770.1" y2="1228.0" stroke-width="1.15" class="cl" stroke-dasharray="8 8 23.8 8.27"/>
<line x1="770.1" y1="1248.0" x2="770.1" y2="1391.5" stroke-width="1.15" />
<line x1="760.5" y1="154.8" x2="760.5" y2="233.8" stroke-width="1.15" />
<line x1="760.5" y1="242.8" x2="760.5" y2="285.0" stroke-width="1.15" />
<line x1="1191.4" y1="154.8" x2="1191.4" y2="322.0" stroke-width="1.15" />
<line x1="760.5" y1="160.5" x2="1191.4" y2="160.5" stroke-width="1.15" />
<polygon points="760.5,160.5 778.5,157.0 778.5,164.0" fill="#000" stroke="none"/>
<polygon points="1191.4,160.5 1173.4,164.0 1173.4,157.0" fill="#000" stroke="none"/>
<text transform="translate(960.3,156.9) scale(0.94,1)" font-size="23.4"><tspan x="0.00" y="0">4</tspan><tspan x="11.06" y="0">8</tspan><tspan x="22.13" y="0">6</tspan></text>
<line x1="593.0" y1="238.8" x2="814.7" y2="238.8" stroke-width="1.15" />
<line x1="598.9" y1="238.8" x2="600.1" y2="1246.4" stroke-width="1.15" />
<polygon points="598.9,238.8 602.4,256.8 595.4,256.8" fill="#000" stroke="none"/>
<polygon points="599.3,592.6 595.8,574.6 602.8,574.6" fill="#000" stroke="none"/>
<polygon points="599.3,592.6 602.8,610.6 595.8,610.6" fill="#000" stroke="none"/>
<polygon points="600.1,1246.4 596.6,1228.4 603.6,1228.4" fill="#000" stroke="none"/>
<line x1="593.0" y1="592.6" x2="697.0" y2="592.6" stroke-width="1.15" />
<line x1="698.5" y1="592.8" x2="730.6" y2="592.8" stroke-width="1.15" class="cl"/>
<line x1="594.0" y1="1246.4" x2="721.0" y2="1246.4" stroke-width="1.15" />
<text transform="translate(595.3,447.3) rotate(-90) scale(0.94,1)" font-size="23.4"><tspan x="0.00" y="0">7</tspan><tspan x="11.17" y="0">5</tspan><tspan x="23.62" y="0">-</tspan><tspan x="33.51" y="0">4</tspan><tspan x="44.68" y="0">0</tspan><tspan x="55.85" y="0">9</tspan></text>
<text transform="translate(596.0,935.3) rotate(-90) scale(0.94,1)" font-size="23.4"><tspan x="0.00" y="0">7</tspan><tspan x="11.06" y="0">3</tspan><tspan x="22.13" y="0">7</tspan></text>
<line x1="622.3" y1="437.8" x2="790.5" y2="437.8" stroke-width="1.15" />
<polygon points="709.9,437.8 691.9,441.3 691.9,434.3" fill="#000" stroke="none"/>
<polygon points="770.1,437.8 788.1,434.3 788.1,441.3" fill="#000" stroke="none"/>
<line x1="709.9" y1="432.4" x2="709.9" y2="566.5" stroke-width="1.15" />
<text transform="translate(622.2,433.4) scale(0.94,1)" font-size="23.4"><tspan x="0.00" y="0">6</tspan><tspan x="11.06" y="0">8</tspan><tspan x="23.40" y="0">-</tspan><tspan x="33.19" y="0">8</tspan><tspan x="44.26" y="0">0</tspan></text>
<line x1="633.6" y1="1199.4" x2="633.6" y2="1395.1" stroke-width="1.15" />
<polygon points="633.6,1219.1 630.1,1201.1 637.1,1201.1" fill="#000" stroke="none"/>
<polygon points="633.6,1272.6 637.1,1290.6 630.1,1290.6" fill="#000" stroke="none"/>
<line x1="627.6" y1="1219.1" x2="703.5" y2="1219.1" stroke-width="1.15" />
<line x1="627.6" y1="1272.6" x2="703.5" y2="1272.6" stroke-width="1.15" />
<text transform="translate(630.8,1394.0) rotate(-90) scale(0.94,1)" font-size="23.4"><tspan x="0.00" y="0">2</tspan><tspan x="12.34" y="0">-</tspan><tspan class="dia" x="20.85" y="0.5">Ø</tspan><tspan x="43.40" y="0">6</tspan><tspan x="54.47" y="0">0</tspan></text>
<line x1="661.5" y1="1207.6" x2="661.5" y2="1395.1" stroke-width="1.15" />
<polygon points="661.5,1228.1 658.0,1210.1 665.0,1210.1" fill="#000" stroke="none"/>
<polygon points="661.5,1246.4 665.0,1264.4 658.0,1264.4" fill="#000" stroke="none"/>
<line x1="656.0" y1="1228.1" x2="683.0" y2="1228.1" stroke-width="1.15" />
<text transform="translate(658.8,1394.0) rotate(-90) scale(0.94,1)" font-size="23.4"><tspan x="0.00" y="0">2</tspan><tspan x="12.13" y="0">-</tspan><tspan x="20.43" y="0" font-size="20.5">G</tspan><tspan x="31.91" y="0">1</tspan><tspan x="44.26" y="1.5" font-size="27">/</tspan><tspan x="54.26" y="0">2</tspan></text>
<line x1="740.5" y1="1349.5" x2="840.3" y2="1349.5" stroke-width="1.15" />
<polygon points="760.6,1349.5 742.6,1353.0 742.6,1346.0" fill="#000" stroke="none"/>
<polygon points="778.6,1349.5 796.6,1346.0 796.6,1353.0" fill="#000" stroke="none"/>
<line x1="760.6" y1="1333.0" x2="760.6" y2="1355.7" stroke-width="1.15" />
<line x1="778.6" y1="1333.0" x2="778.6" y2="1355.7" stroke-width="1.15" />
<text transform="translate(797.3,1345.5) scale(0.94,1)" font-size="23.4"><tspan x="-1.28" y="0" font-size="20.5">G</tspan><tspan x="10.43" y="0">1</tspan><tspan x="22.98" y="1.5" font-size="27">/</tspan><tspan x="33.19" y="0">2</tspan></text>
<line x1="703.6" y1="1272.6" x2="703.6" y2="1459.8" stroke-width="1.15" />
<line x1="703.6" y1="1386.2" x2="770.1" y2="1386.2" stroke-width="1.15" />
<polygon points="703.6,1386.2 721.6,1382.7 721.6,1389.7" fill="#000" stroke="none"/>
<polygon points="770.1,1386.2 752.1,1389.7 752.1,1382.7" fill="#000" stroke="none"/>
<text transform="translate(727.0,1381.8) scale(0.94,1)" font-size="23.4"><tspan x="0.00" y="0">7</tspan><tspan x="11.06" y="0">5</tspan></text>
<line x1="881.5" y1="1328.0" x2="881.5" y2="1430.5" stroke-width="1.15" />
<line x1="703.6" y1="1425.6" x2="881.5" y2="1425.6" stroke-width="1.15" />
<polygon points="703.6,1425.6 721.6,1422.1 721.6,1429.1" fill="#000" stroke="none"/>
<polygon points="881.5,1425.6 863.5,1429.1 863.5,1422.1" fill="#000" stroke="none"/>
<text transform="translate(776.4,1421.7) scale(0.94,1)" font-size="23.4"><tspan x="0.00" y="0">2</tspan><tspan x="11.06" y="0">0</tspan><tspan x="21.49" y="0">1</tspan></text>
<line x1="888.6" y1="1321.0" x2="888.6" y2="1459.8" stroke-width="1.15" />
<line x1="703.6" y1="1454.5" x2="888.6" y2="1454.5" stroke-width="1.15" />
<polygon points="703.6,1454.5 721.6,1451.0 721.6,1458.0" fill="#000" stroke="none"/>
<polygon points="888.6,1454.5 870.6,1458.0 870.6,1451.0" fill="#000" stroke="none"/>
<text transform="translate(792.3,1450.6) scale(0.94,1)" font-size="23.4"><tspan x="0.00" y="0">2</tspan><tspan x="11.06" y="0">0</tspan><tspan x="22.13" y="0">9</tspan></text>
</svg>
</body></html>
